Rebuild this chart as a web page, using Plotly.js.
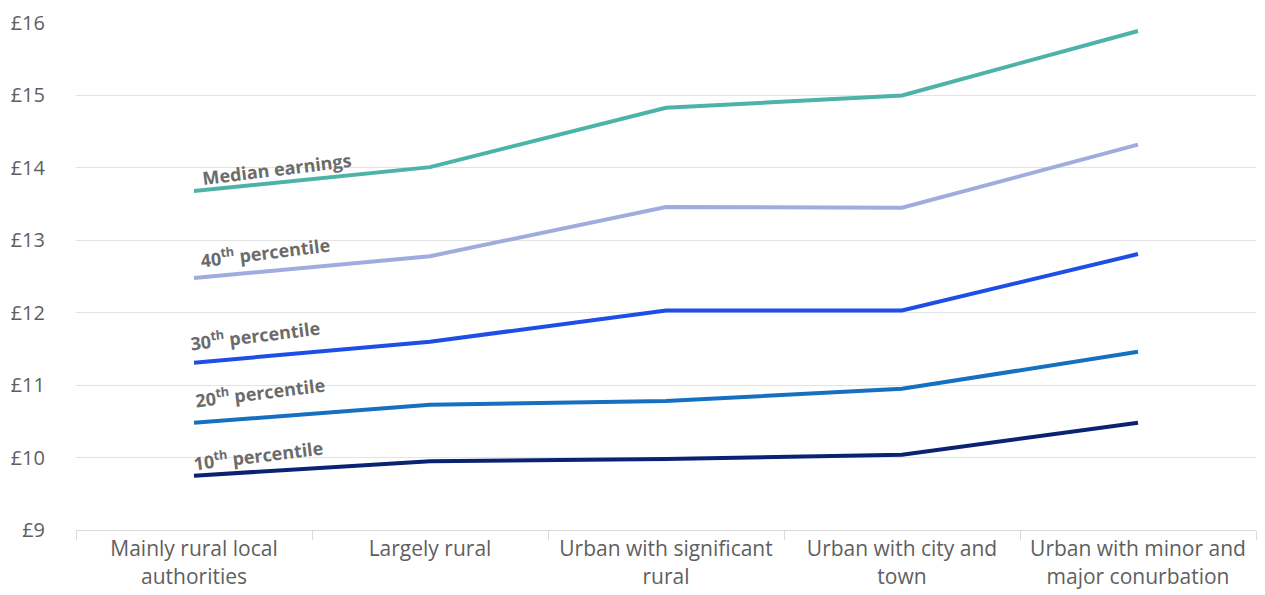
<!DOCTYPE html>
<html>
<head>
<meta charset="utf-8">
<script src="https://cdn.plot.ly/plotly-3.0.1.min.js"></script>
<style>
  html, body { margin: 0; padding: 0; background: #ffffff; }
  #chart { width: 1265px; height: 595px; }
</style>
</head>
<body>
<div id="chart"></div>
<script>
// Hourly earnings by rural-urban classification
const areaTypes = [
  "Mainly rural local<br>authorities",
  "Largely rural",
  "Urban with significant<br>rural",
  "Urban with city and<br>town",
  "Urban with minor and<br>major conurbation"
];

const medianEarnings = [13.68, 14.01, 14.83, 15.00, 15.89];
const pct40 = [12.48, 12.78, 13.46, 13.45, 14.32];
const pct30 = [11.31, 11.60, 12.03, 12.03, 12.81];
const pct20 = [10.48, 10.73, 10.78, 10.95, 11.46];
const pct10 = [9.75, 9.95, 9.98, 10.04, 10.48];

const seriesNames = ["Median earnings", "40<sup>th</sup> percentile", "30<sup>th</sup> percentile",
                     "20<sup>th</sup> percentile", "10<sup>th</sup> percentile"];
const seriesValues = [medianEarnings, pct40, pct30, pct20, pct10];
const seriesColors = ["#4db3a8", "#a0acde", "#1e4de8", "#1670c0", "#0b2272"];

// Inline label placement: [category offset, value]
const labelPos = [[0.35, 13.98], [0.30, 12.84], [0.26, 11.69], [0.28, 10.90], [0.27, 10.04]];
const yTicks = [9, 10, 11, 12, 13, 14, 15, 16];

const baseFont = "'Open Sans', Lato, sans-serif";

const traces = seriesValues.map((vals, i) => ({
  type: "scatter",
  mode: "lines",
  x: areaTypes,
  y: vals,
  name: seriesNames[i],
  line: { color: seriesColors[i], width: 4 },
  hoverinfo: "y+name"
}));

const annotations = labelPos.map((p, i) => ({
  xref: "x",
  yref: "y",
  x: p[0],
  y: p[1],
  text: "<b>" + seriesNames[i] + "</b>",
  showarrow: false,
  textangle: -7,
  xanchor: "center",
  yanchor: "middle",
  font: { family: baseFont, size: 18, color: "#6b6b6b" }
}));

const layout = {
  width: 1265,
  height: 595,
  margin: { l: 76, r: 9, t: 23, b: 65 },
  paper_bgcolor: "#ffffff",
  plot_bgcolor: "#ffffff",
  showlegend: false,
  font: { family: baseFont, color: "#595959" },
  xaxis: {
    type: "category",
    range: [-0.5, 4.5],
    tickson: "boundaries",
    ticks: "outside",
    ticklen: 9,
    tickcolor: "#d9d9d9",
    showline: true,
    linecolor: "#d9d9d9",
    linewidth: 1,
    showgrid: false,
    tickfont: { size: 21, color: "#5f5f5f" },
    fixedrange: true
  },
  yaxis: {
    range: [9, 16],
    tickvals: yTicks,
    ticktext: yTicks.map(v => "£" + v),
    showgrid: true,
    gridcolor: "#e3e3e3",
    gridwidth: 1,
    zeroline: false,
    showline: false,
    ticks: "",
    ticklabelstandoff: 30,
    tickfont: { size: 20, color: "#5f5f5f" },
    fixedrange: true
  },
  annotations: annotations
};

Plotly.newPlot("chart", traces, layout, { displayModeBar: false, staticPlot: true });
</script>
</body>
</html>
